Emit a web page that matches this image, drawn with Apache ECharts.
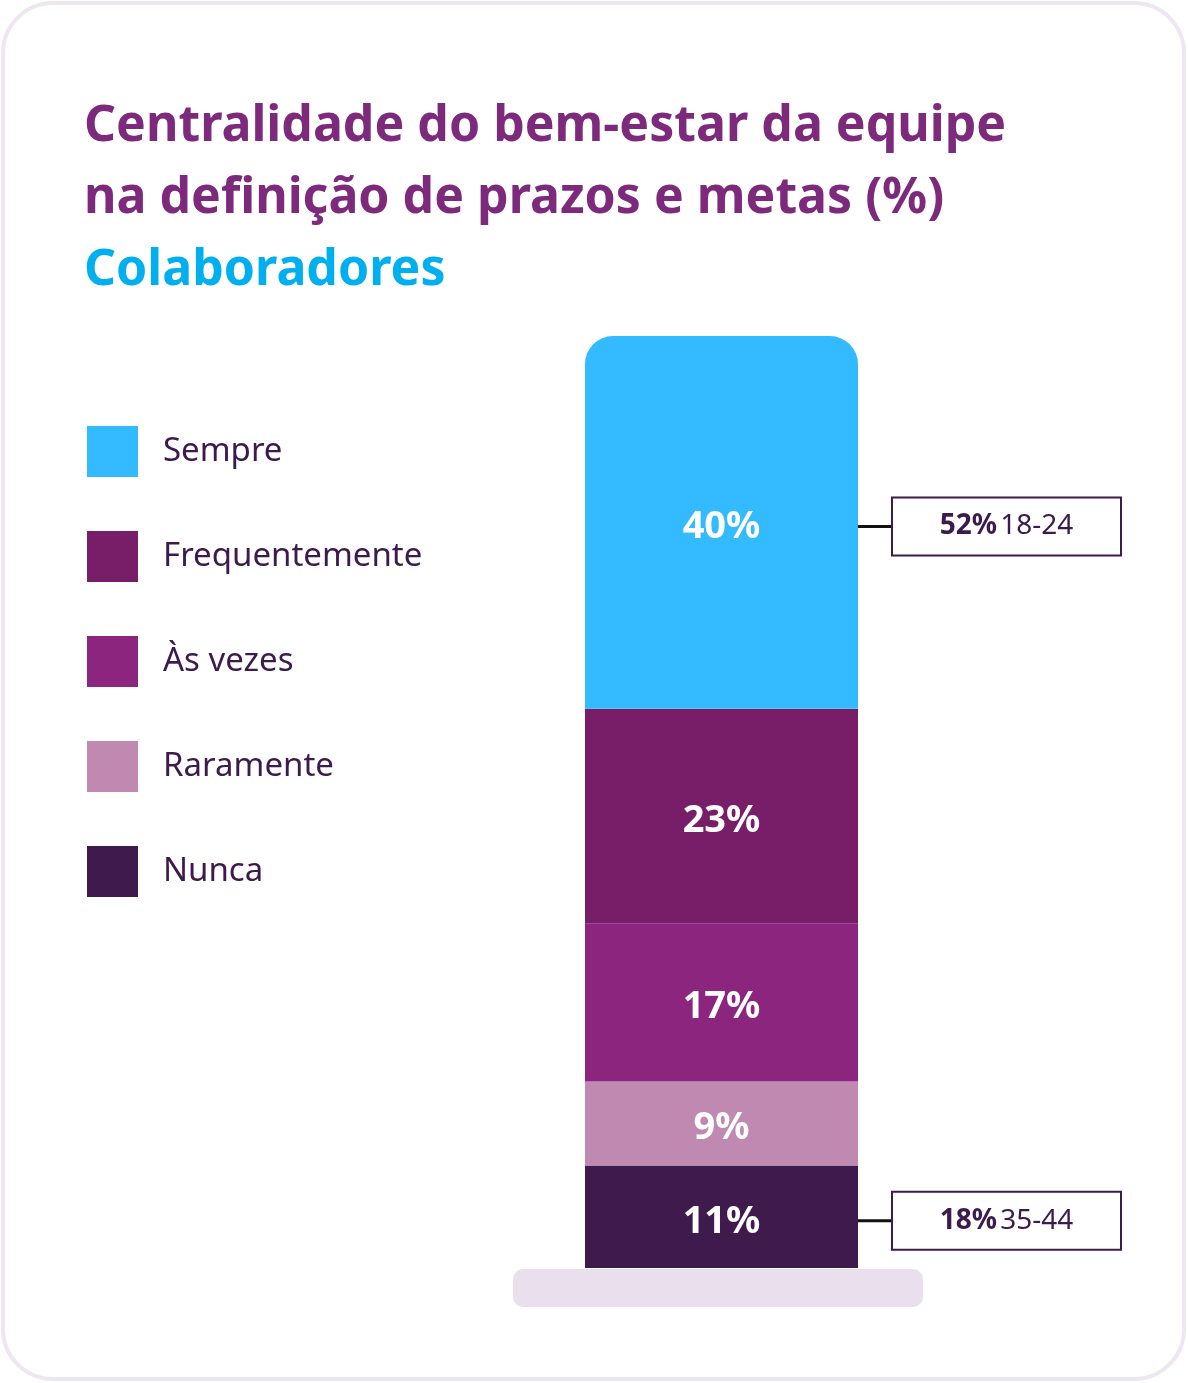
<!DOCTYPE html>
<html lang="pt">
<head>
  <meta charset="UTF-8">
  <title>Centralidade do bem-estar da equipe</title>
  <style>
    html, body { margin: 0; padding: 0; overflow: hidden; background: #fff; }
    #chart { width: 1188px; height: 1383px; }
  </style>
</head>
<body>
  <div id="chart"></div>
</body>
<script src="https://cdn.jsdelivr.net/npm/echarts@6/dist/echarts.min.js"></script>
<script>
  // dados
  const categories = ['Colaboradores'];
  const seriesNames = ['Nunca', 'Raramente', 'Às vezes', 'Frequentemente', 'Sempre']; // de baixo para cima
  const seriesValues = [11, 9, 17, 23, 40];
  const legendOrder = ['Sempre', 'Frequentemente', 'Às vezes', 'Raramente', 'Nunca'];
  const noteSeries = ['Sempre', 'Nunca'];
  const notePct = ['52%', '18%'];
  const noteAge = ['18-24', '35-44'];

  const colors = {
    'Sempre': '#33baff',
    'Frequentemente': '#781e69',
    'Às vezes': '#8b257e',
    'Raramente': '#bf89b1',
    'Nunca': '#3f1a4d'
  };
  const FONT = 'Noto Sans';
  const DARK = '#3d1a4d';

  const myChart = echarts.init(document.querySelector('#chart'));

  // séries empilhadas
  const barSeries = seriesNames.map(function (name, i) {
    const top = i === seriesNames.length - 1;
    return {
      name: name,
      type: 'bar',
      stack: 'total',
      barWidth: '100%',
      data: [seriesValues[i]],
      itemStyle: {
        color: colors[name],
        borderRadius: top ? [28, 28, 0, 0] : 0
      },
      label: {
        show: true,
        position: 'inside',
        offset: [0, 5],
        formatter: '{c}%',
        color: '#fff',
        fontFamily: FONT,
        fontWeight: 'bold',
        fontSize: 38
      }
    };
  });

  // caixas de destaque: meio do segmento correspondente
  const noteData = noteSeries.map(function (name, k) {
    const i = seriesNames.indexOf(name);
    let base = 0;
    for (let j = 0; j < i; j++) base += seriesValues[j];
    return [0, base + seriesValues[i] / 2, notePct[k], noteAge[k]];
  });

  const option = {
    backgroundColor: '#fff',
    animation: false,
    title: [{
      left: 79,
      top: 86,
      text: 'Centralidade do bem-estar da equipe\nna definição de prazos e metas (%)',
      textStyle: { fontFamily: FONT, fontSize: 50, fontWeight: 'bold', lineHeight: 72, color: '#7d2a7c' }
    }, {
      left: 79,
      top: 230,
      text: 'Colaboradores',
      textStyle: { fontFamily: FONT, fontSize: 50, fontWeight: 'bold', lineHeight: 72, color: '#00aff0' }
    }],
    legend: {
      orient: 'vertical',
      left: 82,
      top: 421,
      data: legendOrder,
      icon: 'rect',
      itemWidth: 51,
      itemHeight: 51,
      itemGap: 54,
      selectedMode: false,
      textStyle: { fontFamily: FONT, fontSize: 33, color: DARK, padding: [0, 0, 0, 20] }
    },
    grid: { left: 585, right: 330, top: 336, bottom: 115 },
    xAxis: { type: 'category', data: categories, show: false },
    yAxis: { type: 'value', min: 0, max: 100, show: false },
    graphic: [{
      type: 'rect',
      z: -10,
      shape: { x: 3, y: 3, width: 1181, height: 1376, r: 50 },
      style: { fill: '#fff', stroke: '#eee6f0', lineWidth: 4 }
    }, {
      type: 'rect',
      z: -5,
      shape: { x: 513, y: 1269, width: 410, height: 38, r: 10 },
      style: { fill: '#eadfec' }
    }],
    series: barSeries.concat([{
      type: 'custom',
      z: 5,
      data: noteData,
      renderItem: function (params, api) {
        const p = api.coord([api.value(0), api.value(1)]);
        const x0 = p[0] + api.size([1, 0])[0] / 2;
        const y = p[1] + 4;
        const w = 229, h = 58;
        return {
          type: 'group',
          children: [{
            type: 'line',
            shape: { x1: x0, y1: y, x2: x0 + 34, y2: y },
            style: { stroke: '#111', lineWidth: 3 }
          }, {
            type: 'rect',
            shape: { x: x0 + 34, y: y - h / 2, width: w, height: h },
            style: { fill: '#fff', stroke: '#3f1a4d', lineWidth: 2 }
          }, {
            type: 'text',
            style: {
              x: x0 + 34 + w / 2,
              y: y,
              align: 'center',
              verticalAlign: 'middle',
              text: '{b|' + api.value(2) + '} {r|' + api.value(3) + '}',
              rich: {
                b: { fontFamily: FONT, fontSize: 28, fontWeight: 'bold', fill: DARK },
                r: { fontFamily: FONT, fontSize: 28, fill: DARK }
              }
            }
          }]
        };
      }
    }])
  };

  myChart.setOption(option);
</script>
</html>
